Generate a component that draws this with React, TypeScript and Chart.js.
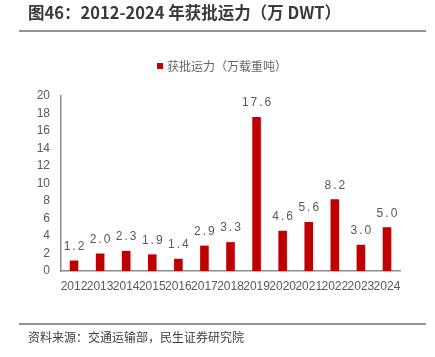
import React, { useEffect, useRef } from "react";
import { Chart, registerables } from "chart.js";

Chart.register(...registerables);

const categories = ["2012", "2013", "2014", "2015", "2016", "2017", "2018", "2019", "2020", "2021", "2022", "2023", "2024"];
const approvedCapacity = [1.2, 2.0, 2.3, 1.9, 1.4, 2.9, 3.3, 17.6, 4.6, 5.6, 8.2, 3.0, 5.0];
const seriesName = "获批运力（万载重吨）";
const titleText = "图46：2012-2024 年获批运力（万 DWT）";
const sourceText = "资料来源：交通运输部，民生证券研究院";

const BAR = "#C00000";
const CJK = '"Noto Sans CJK SC", "Liberation Sans", sans-serif';

const decorPlugin = {
  id: "decor",
  afterDraw(chart: any) {
    const ctx = chart.ctx as CanvasRenderingContext2D;
    ctx.save();
    // title
    ctx.fillStyle = "#3a3a3a";
    ctx.font = `bold 16.5px ${CJK}`;
    ctx.textBaseline = "middle";
    ctx.textAlign = "left";
    ctx.fillText(titleText, 28, 13);
    ctx.strokeStyle = "#6e6e6e";
    ctx.lineWidth = 1.5;
    ctx.beginPath();
    ctx.moveTo(19, 31);
    ctx.lineTo(426, 31);
    ctx.stroke();
    // footer
    ctx.beginPath();
    ctx.moveTo(19, 324);
    ctx.lineTo(426, 324);
    ctx.stroke();
    ctx.fillStyle = "#404040";
    ctx.font = `12px ${CJK}`;
    ctx.fillText(sourceText, 28, 337);
    // legend
    ctx.fillStyle = BAR;
    ctx.fillRect(157, 63, 6, 6);
    ctx.fillStyle = "#666666";
    ctx.font = `12px ${CJK}`;
    ctx.fillText(chart.data.datasets[0].label, 167, 66);
    // data labels
    const meta = chart.getDatasetMeta(0);
    ctx.fillStyle = "#595959";
    ctx.font = '12px "Liberation Sans", Arial, sans-serif';
    ctx.textAlign = "center";
    ctx.textBaseline = "bottom";
    (ctx as any).letterSpacing = "2px";
    meta.data.forEach((bar: any, i: number) => {
      const v = chart.data.datasets[0].data[i] as number;
      ctx.fillText(v.toFixed(1), bar.x + 1, bar.y - 8);
    });
    ctx.restore();
  },
};

export default function App() {
  const ref = useRef<HTMLCanvasElement>(null);
  useEffect(() => {
    if (!ref.current) return;
    const chart = new Chart(ref.current, {
      type: "bar",
      data: {
        labels: categories,
        datasets: [
          {
            label: seriesName,
            data: approvedCapacity,
            backgroundColor: BAR,
            barPercentage: 0.5,
            categoryPercentage: 0.66,
          },
        ],
      },
      options: {
        animation: false,
        responsive: false,
        maintainAspectRatio: false,
        layout: { padding: { left: 8, top: 96, right: 35, bottom: 56 } },
        plugins: {
          legend: { display: false },
          title: { display: false },
          tooltip: { enabled: false },
        },
        scales: {
          x: {
            grid: { display: false, drawTicks: false },
            border: { display: true, color: "#8c8c8c", width: 1.5 },
            ticks: {
              autoSkip: false,
              maxRotation: 0,
              minRotation: 0,
              padding: 8,
              color: "#595959",
              font: { family: '"Liberation Sans", Arial, sans-serif', size: 12 },
            },
            afterFit: (s: any) => {
              s.height = 30;
            },
          },
          y: {
            min: 0,
            max: 20,
            grid: { display: false, drawTicks: false },
            border: { display: true, color: "#8c8c8c", width: 1.5 },
            ticks: {
              stepSize: 2,
              padding: 11,
              color: "#595959",
              font: { family: '"Liberation Sans", Arial, sans-serif', size: 12 },
            },
            afterFit: (s: any) => {
              s.width = 53;
            },
          },
        },
      },
      plugins: [decorPlugin],
    });
    return () => chart.destroy();
  }, []);
  return (
    <div style={{ position: "absolute", left: 0, top: 0, width: 435, height: 357, background: "#fff" }}>
      <canvas ref={ref} width={435} height={357} style={{ width: 435, height: 357 }} />
    </div>
  );
}
